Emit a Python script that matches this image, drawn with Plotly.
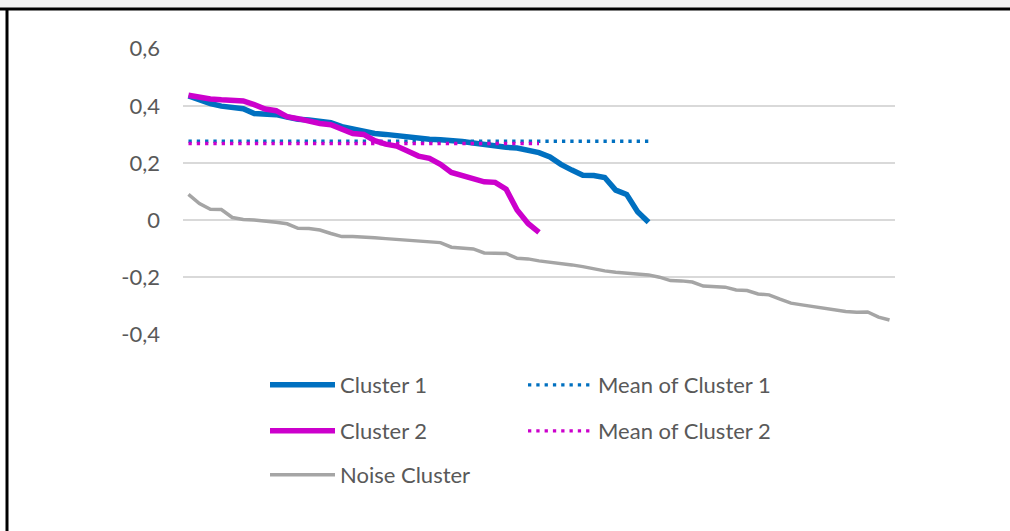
import plotly.graph_objects as go

# ---- data (x = category index) ----
categories = list(range(1, 66))

cluster1 = [0.435, 0.421, 0.408, 0.399, 0.395, 0.390, 0.373, 0.370, 0.369, 0.361,
            0.353, 0.350, 0.345, 0.341, 0.327, 0.320, 0.309, 0.303, 0.300, 0.295,
            0.291, 0.288, 0.283, 0.281, 0.279, 0.275, 0.270, 0.264, 0.259, 0.255,
            0.252, 0.246, 0.236, 0.221, 0.195, 0.175, 0.157, 0.156, 0.149, 0.105,
            0.090, 0.029, -0.008]

cluster2 = [0.437, 0.430, 0.424, 0.421, 0.420, 0.417, 0.404, 0.389, 0.383, 0.362,
            0.355, 0.346, 0.338, 0.334, 0.320, 0.303, 0.300, 0.278, 0.266, 0.259,
            0.242, 0.224, 0.216, 0.195, 0.167, 0.157, 0.146, 0.134, 0.132, 0.108,
            0.035, -0.012, -0.043]

noise = [0.090, 0.058, 0.038, 0.037, 0.009, 0.002, 0.000, -0.003, -0.008, -0.013,
         -0.029, -0.030, -0.035, -0.047, -0.058, -0.058, -0.059, -0.062, -0.065, -0.068,
         -0.070, -0.076, -0.077, -0.079, -0.095, -0.098, -0.101, -0.115, -0.117, -0.117,
         -0.134, -0.136, -0.143, -0.147, -0.154, -0.157, -0.163, -0.172, -0.178, -0.183,
         -0.186, -0.192, -0.192, -0.200, -0.212, -0.213, -0.217, -0.231, -0.233, -0.235,
         -0.245, -0.247, -0.259, -0.262, -0.277, -0.291, -0.297, -0.303, -0.309, -0.317,
         -0.320, -0.323, -0.322, -0.340, -0.350]

mean_cluster1 = 0.276
mean_cluster2 = 0.268

y_ticks = [-0.4, -0.2, 0, 0.2, 0.4, 0.6]
y_tick_labels = ["-0,4", "-0,2", "0", "0,2", "0,4", "0,6"]

BLUE = "#0070C0"
MAGENTA = "#CC00CC"
GREY = "#A5A5A5"
TEXT = "#595959"
FONT = "Lato"

# plot area in pixels (as in the reference)
W, H = 1010, 531
PX_L, PX_R = 183, 895
PX_T, PX_B = 48, 335


def px_x(px):
    return (px - PX_L) / (PX_R - PX_L)


def px_y(py):
    return (PX_B - py) / (PX_B - PX_T)


fig = go.Figure()

fig.add_trace(go.Scatter(x=categories[:len(cluster1)], y=cluster1, mode="lines",
                         name="Cluster 1", line=dict(color=BLUE, width=5.5),
                         legend="legend"))
fig.add_trace(go.Scatter(x=categories[:len(cluster1)], y=[mean_cluster1] * len(cluster1),
                         mode="lines", name="Mean of Cluster 1",
                         line=dict(color=BLUE, width=3.3, dash="3.3px,5px"),
                         legend="legend"))
fig.add_trace(go.Scatter(x=categories[:len(cluster2)], y=cluster2, mode="lines",
                         name="Cluster 2", line=dict(color=MAGENTA, width=5.5),
                         legend="legend2"))
fig.add_trace(go.Scatter(x=categories[:len(cluster2)], y=[mean_cluster2] * len(cluster2),
                         mode="lines", name="Mean of Cluster 2",
                         line=dict(color=MAGENTA, width=3.3, dash="3.3px,5px"),
                         legend="legend2"))
fig.add_trace(go.Scatter(x=categories, y=noise, mode="lines", name="Noise Cluster",
                         line=dict(color=GREY, width=3.5), legend="legend3"))

legend_common = dict(orientation="h", xanchor="left", yanchor="middle",
                     entrywidth=178, itemwidth=65, bgcolor="rgba(0,0,0,0)",
                     font=dict(family=FONT, size=22, color=TEXT))
LEG_X = 265

fig.update_layout(
    width=W, height=H,
    margin=dict(l=PX_L, r=W - PX_R, t=PX_T, b=H - PX_B),
    paper_bgcolor="white", plot_bgcolor="white",
    font=dict(family=FONT, size=22, color=TEXT),
    xaxis=dict(range=[0.5, 65.5], showgrid=False, zeroline=False,
               showticklabels=False, showline=False, ticks=""),
    yaxis=dict(range=[-0.4025, 0.6025], tickvals=y_ticks, ticktext=y_tick_labels,
               showgrid=True, gridcolor="#D9D9D9", gridwidth=2, zeroline=False,
               showline=False, ticks="", ticklabelstandoff=22,
               tickfont=dict(family=FONT, size=22, color=TEXT)),
    legend=dict(x=px_x(LEG_X), y=px_y(385), **legend_common),
    legend2=dict(x=px_x(LEG_X), y=px_y(431), **legend_common),
    legend3=dict(x=px_x(LEG_X), y=px_y(475), **legend_common),
    shapes=[
        dict(type="rect", xref="paper", yref="paper", x0=px_x(0), x1=px_x(W),
             y0=px_y(0), y1=px_y(8), fillcolor="#F2F2F2", line=dict(width=0), layer="below"),
        dict(type="line", xref="paper", yref="paper", x0=px_x(0), x1=px_x(W),
             y0=px_y(9), y1=px_y(9), line=dict(color="black", width=3)),
        dict(type="line", xref="paper", yref="paper", x0=px_x(7), x1=px_x(7),
             y0=px_y(9), y1=px_y(H), line=dict(color="black", width=3)),
    ],
    showlegend=True,
)

# the page body has an 8px default margin; remove it so the figure fills the window
fig.write_html("out.html", config={"displayModeBar": False},
               post_script="document.body.style.margin='0';")
